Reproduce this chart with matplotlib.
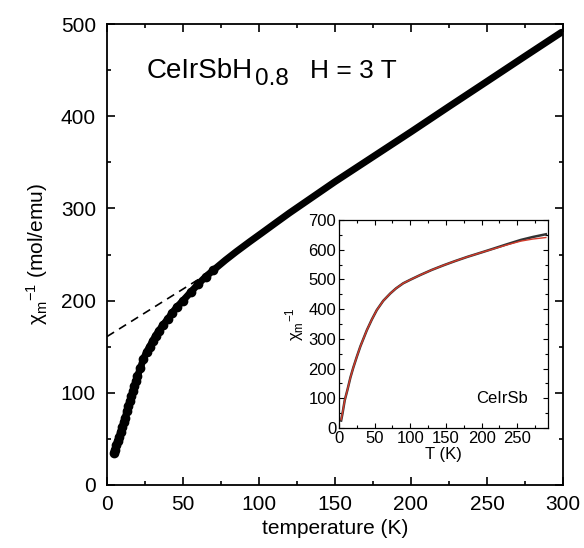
import matplotlib
matplotlib.use("Agg")
import matplotlib.pyplot as plt
from matplotlib.ticker import MultipleLocator

plt.rcParams['font.family'] = ['Liberation Sans', 'DejaVu Sans']
plt.rcParams['mathtext.fontset'] = 'custom'
plt.rcParams['mathtext.rm'] = 'Liberation Sans'
plt.rcParams['mathtext.it'] = 'Liberation Sans:italic'
plt.rcParams['mathtext.bf'] = 'Liberation Sans:bold'

# Main data: CeIrSbH0.8, H = 3 T
temp_K = [4.5, 5, 6, 7, 8, 9, 10, 11, 12, 13, 14, 15, 16, 17, 18, 19, 20, 22, 24,
          26, 28, 30, 32, 34, 37, 40, 43, 46, 50, 55, 60, 65, 70, 78, 85, 94, 102,
          111, 120, 135, 150, 175, 200, 225, 250, 275, 299]
inv_chi = [35, 38, 43, 48, 52, 58, 63, 68, 73, 80, 86, 91, 96, 102, 107, 113, 118,
           127, 137, 144, 150, 156, 162, 167, 174, 180, 187, 193, 200, 209, 218, 226,
           233, 244, 253, 264, 273.5, 284.3, 295, 312, 329, 356, 383, 410.5, 437.7,
           465, 491]

# Curie-Weiss extrapolation (dashed)
fit_T = [0, 66]
fit_chi = [161, 229]

# Inset: CeIrSb
inset_T = [3, 5, 8, 12, 16, 20, 25, 30, 39, 46, 53, 62, 72, 80, 90, 100, 114, 130,
           147, 163, 180, 200, 217, 235, 255, 272, 290]
inset_chi = [25, 50, 93, 130, 170, 203, 240, 275, 329, 365, 397, 428, 453, 470, 487,
             499, 515, 532, 548, 562, 576, 591, 604, 618, 633, 643, 652]
inset_fit = [28, 52, 93, 130, 170, 203, 240, 275, 329, 365, 397, 428, 453, 470, 487,
             499, 515, 532, 548, 562, 576, 591, 603, 616, 629, 636, 641]

W, H = 584, 548
fig = plt.figure(figsize=(W / 100, H / 100), dpi=100)

ax = fig.add_axes([107 / W, 1 - 485 / H, (563 - 107) / W, (485 - 24) / H])
ax.plot(fit_T, fit_chi, color='black', lw=1.2, ls=(0, (5, 3.5)), zorder=2)
low_idx = [i for i, t in enumerate(temp_K) if t <= 70]
ax.plot(temp_K, inv_chi, color='black', lw=5, marker='o', ms=6,
        markevery=low_idx, solid_capstyle='round', solid_joinstyle='round', zorder=3)
ax.set_xlim(0, 300)
ax.set_ylim(0, 500)
ax.xaxis.set_major_locator(MultipleLocator(50))
ax.xaxis.set_minor_locator(MultipleLocator(25))
ax.yaxis.set_major_locator(MultipleLocator(100))
ax.yaxis.set_minor_locator(MultipleLocator(50))
ax.tick_params(which='both', direction='in', top=True, right=True, width=1.2)
ax.tick_params(which='major', length=5.5, labelsize=15, pad=7)
ax.tick_params(which='minor', length=3)
ax.tick_params(axis='y', which='major', pad=8)
for s in ax.spines.values():
    s.set_linewidth(1.3)
ax.set_xlabel('temperature (K)', fontsize=15, labelpad=4)
ax.set_ylabel(r'$\mathrm{\chi_m}^{\mathrm{-1}}$ (mol/emu)', fontsize=15, labelpad=8)

fig.text(146.7 / W, 1 - 77.7 / H, 'CeIrSbH', fontsize=20, va='baseline', ha='left')
fig.text(255 / W, 1 - 85 / H, '0.8', fontsize=17.5, va='baseline', ha='left')
fig.text(310 / W, 1 - 78 / H, 'H = 3 T', fontsize=19, va='baseline', ha='left')

axi = fig.add_axes([339 / W, 1 - 428 / H, (548 - 339) / W, (428 - 220) / H])
axi.plot(inset_T, inset_chi, color='#333333', lw=1.8, zorder=2)
axi.plot(inset_T, inset_fit, color='#d23a2a', lw=1.0, zorder=3)
axi.set_xlim(0, 293)
axi.set_ylim(0, 700)
axi.xaxis.set_major_locator(MultipleLocator(50))
axi.xaxis.set_minor_locator(MultipleLocator(25))
axi.yaxis.set_major_locator(MultipleLocator(100))
axi.yaxis.set_minor_locator(MultipleLocator(50))
axi.tick_params(which='both', direction='in', top=True, right=True, width=0.8)
axi.tick_params(which='major', length=3.5, labelsize=12, pad=2)
axi.tick_params(which='minor', length=2)
for s in axi.spines.values():
    s.set_linewidth(0.9)
axi.set_xlabel('T (K)', fontsize=12, labelpad=1)
axi.set_ylabel(r'$\mathrm{\chi_m}^{\mathrm{-1}}$', fontsize=12, labelpad=2)
axi.text(0.78, 0.14, 'CeIrSb', transform=axi.transAxes, fontsize=12,
         ha='center', va='center')

fig.savefig('out.png', dpi=100)
